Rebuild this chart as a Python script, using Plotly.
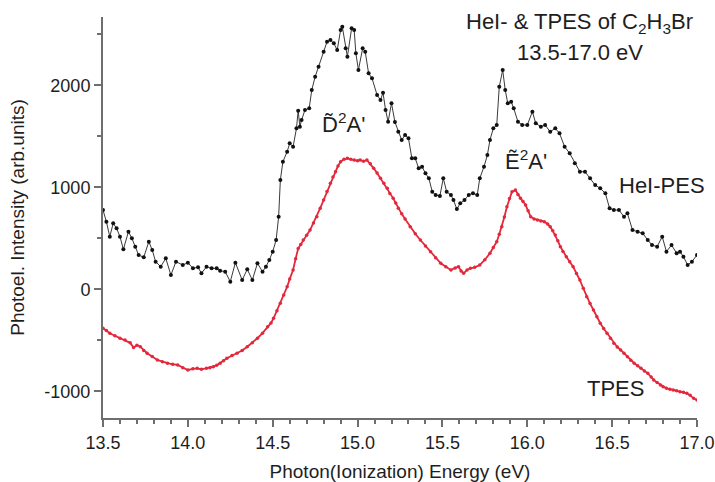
import plotly.graph_objects as go

# HeI photoelectron spectrum of C2H3Br (photon energy in eV, counts)
hei_energy = [
    13.50, 13.52, 13.54, 13.56, 13.58, 13.60, 13.62, 13.65, 13.67, 13.69,
    13.71, 13.74, 13.77, 13.79, 13.81, 13.84, 13.87, 13.90, 13.93, 13.97,
    14.00, 14.03, 14.06, 14.08, 14.11, 14.14, 14.17, 14.19, 14.22, 14.25,
    14.28, 14.32, 14.35, 14.38, 14.41, 14.44, 14.46, 14.48, 14.50, 14.52,
    14.535, 14.545, 14.56, 14.585, 14.60, 14.62, 14.64, 14.65, 14.66, 14.67,
    14.69, 14.715, 14.73, 14.75, 14.77, 14.80, 14.82, 14.84, 14.86, 14.88,
    14.90, 14.91, 14.93, 14.94, 14.965, 14.98, 14.99, 15.005, 15.03, 15.045,
    15.065, 15.085, 15.115, 15.135, 15.15, 15.165, 15.18, 15.20, 15.22, 15.24,
    15.26, 15.28, 15.30, 15.32, 15.34, 15.36, 15.38, 15.40, 15.42, 15.44,
    15.46, 15.485, 15.505, 15.525, 15.55, 15.565, 15.585, 15.605, 15.63, 15.655,
    15.68, 15.705, 15.72, 15.745, 15.765, 15.78, 15.80, 15.82, 15.835, 15.855,
    15.87, 15.885, 15.905, 15.92, 15.945, 15.97, 16.00, 16.03, 16.05, 16.08,
    16.105, 16.135, 16.165, 16.19, 16.22, 16.25, 16.28, 16.31, 16.34, 16.37,
    16.40, 16.43, 16.46, 16.485, 16.51, 16.54, 16.57, 16.59, 16.62, 16.65,
    16.68, 16.71, 16.735, 16.765, 16.795, 16.82, 16.85, 16.88, 16.90, 16.92,
    16.945, 16.97, 17.00,
]
hei_counts = [
    777, 663, 516, 647, 598, 516, 392, 565, 500, 418,
    336, 314, 467, 385, 271, 222, 304, 140, 271, 238,
    261, 206, 216, 157, 222, 206, 206, 182, 173, 75,
    261, 91, 196, 91, 255, 173, 222, 287, 369, 483,
    712, 1071, 1251, 1349, 1431, 1398, 1578, 1751, 1594, 1660,
    1758, 1775, 1954, 2084, 2182, 2329, 2427, 2444, 2412, 2346,
    2542, 2575, 2363, 2280, 2559, 2542, 2314, 2150, 2363, 2330,
    2118, 2069, 1905, 1856, 1927, 1758, 1643, 1824, 1640, 1545,
    1464, 1513, 1480, 1284, 1284, 1186, 1202, 1137, 1088, 957,
    925, 915, 1088, 957, 925, 875, 787, 843, 875, 925,
    941, 925, 1088, 1202, 1317, 1464, 1578, 1611, 1986, 2150,
    1954, 1824, 1839, 1775, 1643, 1611, 1611, 1741, 1627, 1594,
    1611, 1545, 1578, 1529, 1398, 1333, 1235, 1153, 1153, 1088,
    1022, 990, 941, 794, 777, 777, 712, 745, 581, 565,
    549, 483, 434, 418, 516, 369, 434, 353, 369, 320,
    238, 271, 336,
]

# Threshold photoelectron spectrum (TPES), offset below the HeI trace
tpes_energy = [
    13.50, 13.52, 13.54, 13.57, 13.60, 13.63, 13.66, 13.68, 13.70, 13.72,
    13.74, 13.76, 13.79, 13.82, 13.85, 13.88, 13.91, 13.94, 13.97, 14.00,
    14.03, 14.055, 14.08, 14.11, 14.13, 14.15, 14.17, 14.19, 14.21, 14.23,
    14.26, 14.29, 14.32, 14.35, 14.38, 14.41, 14.44, 14.47, 14.49, 14.505,
    14.525, 14.545, 14.565, 14.585, 14.60, 14.62, 14.635, 14.65, 14.665, 14.68,
    14.70, 14.72, 14.74, 14.76, 14.78, 14.80, 14.82, 14.84, 14.855, 14.87,
    14.885, 14.90, 14.92, 14.94, 14.96, 14.98, 15.00, 15.015, 15.035, 15.055,
    15.075, 15.095, 15.115, 15.135, 15.155, 15.175, 15.19, 15.21, 15.225, 15.24,
    15.26, 15.28, 15.31, 15.34, 15.37, 15.40, 15.43, 15.46, 15.49, 15.52,
    15.55, 15.575, 15.595, 15.61, 15.625, 15.645, 15.665, 15.69, 15.72, 15.75,
    15.78, 15.80, 15.82, 15.835, 15.85, 15.865, 15.88, 15.895, 15.91, 15.93,
    15.945, 15.96, 15.975, 15.99, 16.005, 16.02, 16.04, 16.06, 16.08, 16.10,
    16.12, 16.135, 16.15, 16.165, 16.18, 16.195, 16.21, 16.23, 16.25, 16.27,
    16.29, 16.31, 16.33, 16.35, 16.37, 16.39, 16.41, 16.43, 16.45, 16.47,
    16.49, 16.51, 16.53, 16.55, 16.57, 16.59, 16.61, 16.63, 16.65, 16.67,
    16.69, 16.71, 16.73, 16.745, 16.765, 16.785, 16.80, 16.82, 16.84, 16.86,
    16.88, 16.90, 16.92, 16.94, 16.96, 16.98, 17.00,
]
tpes_counts = [
    -382, -405, -431, -455, -480, -497, -525, -570, -548, -563,
    -600, -627, -660, -693, -710, -725, -735, -742, -770, -791,
    -780, -775, -785, -775, -770, -759, -745, -725, -700, -676,
    -650, -627, -600, -563, -525, -480, -430, -367, -330, -284,
    -210, -137, -55, 25, 100, 189, 300, 400, 440, 483,
    530, 581, 650, 712, 795, 875, 960, 1039, 1100, 1153,
    1210, 1251, 1275, 1284, 1275, 1268, 1260, 1268, 1255, 1268,
    1230, 1186, 1140, 1088, 1040, 990, 940, 892, 845, 794,
    740, 690, 614, 545, 483, 425, 369, 310, 255, 220,
    189, 210, 222, 180, 157, 190, 206, 215, 238, 290,
    353, 410, 467, 540, 614, 710, 810, 890, 957, 973,
    930, 892, 860, 826, 770, 712, 690, 679, 670, 663,
    640, 614, 575, 532, 475, 418, 370, 320, 270, 222,
    155, 91, 10, -73, -140, -203, -270, -333, -385, -431,
    -480, -529, -565, -595, -628, -661, -695, -725, -750, -775,
    -800, -824, -860, -889, -915, -938, -955, -971, -980, -987,
    -995, -1004, -1010, -1020, -1040, -1069, -1085,
]

x_tick_values = [13.5, 14.0, 14.5, 15.0, 15.5, 16.0, 16.5, 17.0]
x_tick_labels = ["13.5", "14.0", "14.5", "15.0", "15.5", "16.0", "16.5", "17.0"]
y_tick_values = [-1000, 0, 1000, 2000]
y_tick_labels = ["-1000", "0", "1000", "2000"]

FONT = "Liberation Sans, Arial, sans-serif"
AXIS_GREY = "#6e6e6e"
TEXT = "#1e1e1e"
RED = "#e3283c"

fig = go.Figure()
fig.add_trace(go.Scatter(
    x=hei_energy, y=hei_counts, mode="lines+markers",
    line=dict(color="#3a3a3a", width=1),
    marker=dict(color="#111111", size=4),
    name="HeI-PES", showlegend=False,
))
fig.add_trace(go.Scatter(
    x=tpes_energy, y=tpes_counts, mode="lines+markers",
    line=dict(color=RED, width=1.8),
    marker=dict(color=RED, size=3.5),
    name="TPES", showlegend=False,
))

axis_common = dict(
    showline=True, linecolor=AXIS_GREY, linewidth=2,
    ticks="outside", ticklen=7, tickwidth=1.5, tickcolor=AXIS_GREY,
    showgrid=False, zeroline=False, automargin=False,
    tickfont=dict(family=FONT, size=18, color=TEXT),
)

fig.update_layout(
    width=715, height=482,
    margin=dict(l=103, r=18, t=17, b=64),
    paper_bgcolor="white", plot_bgcolor="white",
    xaxis=dict(
        range=[13.5, 17.0],
        tickvals=x_tick_values, ticktext=x_tick_labels,
        minor=dict(dtick=0.1, tick0=13.5, ticks="outside", ticklen=4,
                   tickwidth=1.5, tickcolor=AXIS_GREY),
        title=dict(text="Photon(Ionization) Energy (eV)",
                   font=dict(family=FONT, size=19, color=TEXT)),
        **axis_common,
    ),
    yaxis=dict(
        range=[-1262, 2670],
        tickvals=y_tick_values, ticktext=y_tick_labels,
        minor=dict(dtick=500, tick0=0, ticks="outside", ticklen=4,
                   tickwidth=1.5, tickcolor=AXIS_GREY),
        title=dict(text="Photoel. Intensity (arb.units)",
                   font=dict(family=FONT, size=19, color=TEXT)),
        **axis_common,
    ),
)

label_font = dict(family=FONT, size=22, color=TEXT)
annotations = [
    ("HeI- & TPES of C<sub>2</sub>H<sub>3</sub>Br", 16.31, 2611),
    ("13.5-17.0 eV", 16.31, 2326),
    ("D\u0303<sup>2</sup>A'", 14.92, 1630),
    ("E\u0303<sup>2</sup>A'", 15.995, 1268),
    ("HeI-PES", 16.796, 1022),
    ("TPES", 16.52, -977),
]
for text, xv, yv in annotations:
    fig.add_annotation(x=xv, y=yv, xref="x", yref="y", text=text,
                       showarrow=False, xanchor="center", yanchor="middle",
                       font=label_font)

fig.write_html("out.html")
